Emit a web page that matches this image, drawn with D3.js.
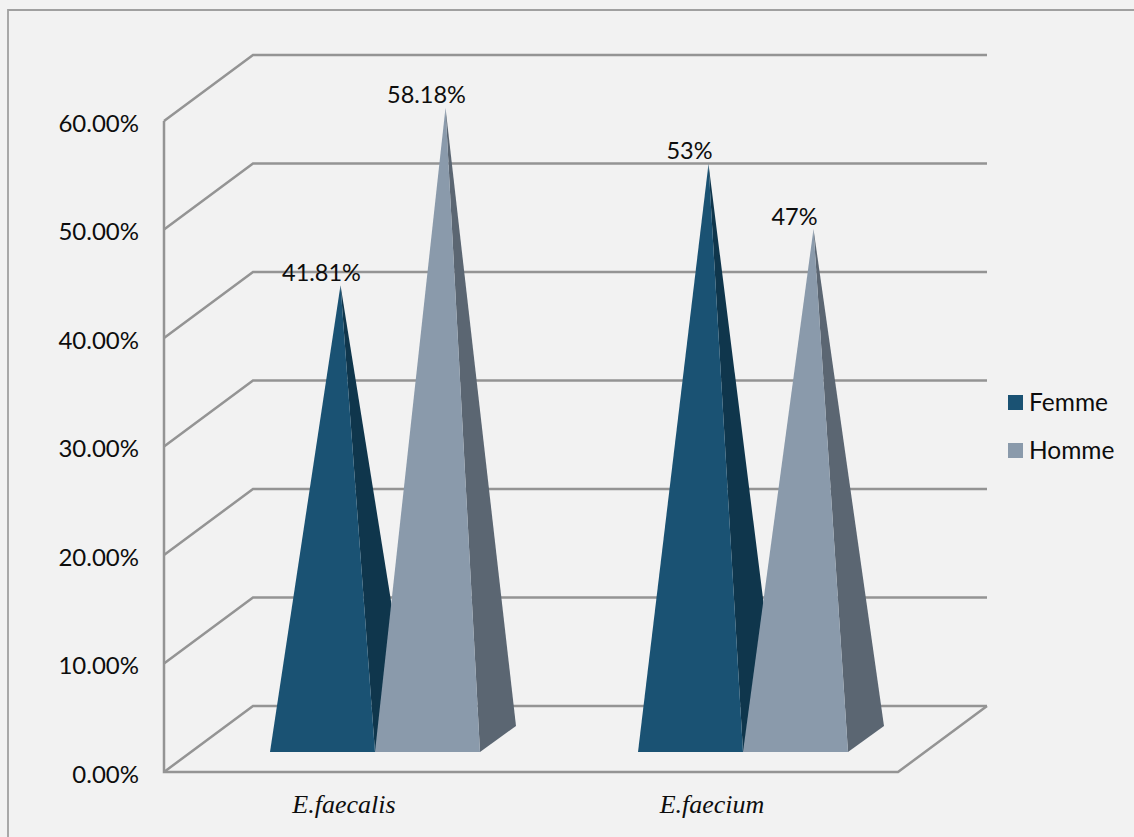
<!DOCTYPE html>
<html>
<head>
<meta charset="utf-8">
<script src="https://cdn.jsdelivr.net/npm/d3@7"></script>
<style>
  html, body { margin: 0; padding: 0; background: #f2f2f2; }
  svg { display: block; }
</style>
</head>
<body>
<svg id="chart" width="1134" height="837"></svg>
<script>
const categories = ["E.faecalis", "E.faecium"];
const seriesNames = ["Femme", "Homme"];
const femme = [41.81, 53];
const homme = [58.18, 47];
const femmeLabels = ["41.81%", "53%"];
const hommeLabels = ["58.18%", "47%"];
const tickValues = [0, 10, 20, 30, 40, 50, 60];

const frontColors = ["#1a5273", "#8a9aab"];
const sideColors = ["#0f364c", "#5b6672"];
const gridColor = "#949494";
const textColor = "#0d0d0d";
const labelFont = "Lato, 'Open Sans', sans-serif";

const svg = d3.select("#chart");

// Chart area border: only the top and left edges fall inside the page
svg.append("path")
  .attr("d", d3.line()([[8, 837], [8, 10], [1134, 10]]))
  .attr("fill", "none").attr("stroke", "#a0a0a0").attr("stroke-width", 1.8);

// Oblique 3D projection: the back wall is the front wall shifted by a fixed depth
const depth = { x: 89, y: -66 };
const plot = { left: 164, right: 898, bottom: 772, top: 121 };
const yFront = d3.scaleLinear().domain([0, 60]).range([plot.bottom, plot.top]);
const xCat = d3.scaleBand().domain(categories).range([270, 1006]);
const xSeries = d3.scaleBand().domain(seriesNames).range([0, 210]);

const grid = svg.append("g").attr("fill", "none")
  .attr("stroke", gridColor).attr("stroke-width", 2.5);

// Side wall and back wall rules, one per tick
grid.selectAll("path.rule").data(tickValues).join("path")
  .attr("class", "rule")
  .attr("d", v => d3.line()([
    [plot.left, yFront(v)],
    [plot.left + depth.x, yFront(v) + depth.y],
    [plot.right + depth.x, yFront(v) + depth.y]
  ]));

// Left edge of the side wall and front edge of the floor
grid.append("path").attr("d", d3.line()([
  [plot.left, yFront(60)],
  [plot.left, plot.bottom],
  [plot.right, plot.bottom],
  [plot.right + depth.x, plot.bottom + depth.y]
]));

// Value axis labels
const yAxis = d3.axisLeft(yFront)
  .tickValues(tickValues)
  .tickSize(0)
  .tickPadding(0)
  .tickFormat(v => d3.format(".2f")(v) + "%");
const axisG = svg.append("g")
  .attr("transform", `translate(${plot.left - 25},2.5)`)
  .call(yAxis);
axisG.select(".domain").remove();
axisG.selectAll("text")
  .attr("font-family", labelFont).attr("font-size", 24).attr("fill", textColor);

// Category labels, centred a little left of each pair of pyramids
svg.append("g").selectAll("text").data(categories).join("text")
  .attr("x", d => xCat(d) + 74)
  .attr("y", 813)
  .attr("text-anchor", "middle")
  .attr("font-family", "'Liberation Serif', serif")
  .attr("font-style", "italic")
  .attr("font-size", 26)
  .attr("fill", textColor)
  .text(d => d);

// Pyramids: each has a front face and a receding side face
const baseY = 752;
const baseDepth = { x: 36, y: -26 };
const unit = (plot.bottom - plot.top) / 60;
const baseCentreY = baseY + baseDepth.y / 2;

const pyramids = [];
categories.forEach((c, ci) => {
  pyramids.push({ cat: c, si: 0, value: femme[ci], label: femmeLabels[ci] });
  pyramids.push({ cat: c, si: 1, value: homme[ci], label: hommeLabels[ci] });
});

const pyramidG = svg.append("g");
pyramids.forEach(p => {
  const x0 = xCat(p.cat) + xSeries(seriesNames[p.si]);
  const x1 = x0 + xSeries.bandwidth();
  const apex = [(x0 + x1) / 2 + baseDepth.x / 2, baseCentreY - p.value * unit];
  pyramidG.append("path")
    .attr("d", d3.line()([[x1, baseY], [x1 + baseDepth.x, baseY + baseDepth.y], apex]) + "Z")
    .attr("fill", sideColors[p.si]);
  pyramidG.append("path")
    .attr("d", d3.line()([[x0, baseY], [x1, baseY], apex]) + "Z")
    .attr("fill", frontColors[p.si]);
  p.apex = apex;
});

// Value labels sit above and slightly left of each apex
svg.append("g").selectAll("text").data(pyramids).join("text")
  .attr("x", d => d.apex[0] - 19)
  .attr("y", d => d.apex[1] - 4.5)
  .attr("text-anchor", "middle")
  .attr("font-family", labelFont)
  .attr("font-size", 23.5)
  .attr("fill", textColor)
  .text(d => d.label);

// Legend
const legend = svg.append("g").selectAll("g").data(seriesNames).join("g")
  .attr("transform", (d, i) => `translate(1008,${395 + i * 48})`);
legend.append("rect").attr("width", 15).attr("height", 15)
  .attr("fill", (d, i) => frontColors[i]);
legend.append("text")
  .attr("x", 21).attr("y", 15.5)
  .attr("font-family", labelFont)
  .attr("font-size", 24.5)
  .attr("fill", textColor)
  .text(d => d);
</script>
</body>
</html>
